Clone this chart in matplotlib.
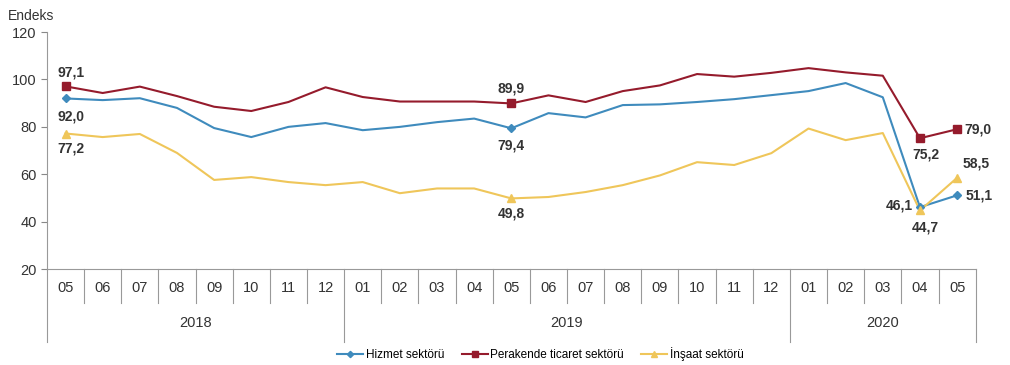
import matplotlib
matplotlib.use("Agg")
from matplotlib import pyplot as plt
from matplotlib.lines import Line2D

plt.rcParams['font.family'] = ['Liberation Sans', 'DejaVu Sans']
narrow = ['Liberation Sans Narrow', 'Liberation Sans', 'DejaVu Sans']

months = ['05', '06', '07', '08', '09', '10', '11', '12',
          '01', '02', '03', '04', '05', '06', '07', '08', '09', '10', '11', '12',
          '01', '02', '03', '04', '05']
years = ['2018', '2019', '2020']
year_spans = [(0, 7), (8, 19), (20, 24)]

hizmet = [92.0, 91.3, 92.1, 88.0, 79.5, 75.7, 80.0, 81.6,
          78.6, 80.0, 82.0, 83.5, 79.4, 85.8, 84.0, 89.2, 89.5, 90.5, 91.7, 93.4,
          95.1, 98.5, 92.5, 46.1, 51.1]
perakende = [97.1, 94.3, 97.0, 93.0, 88.5, 86.7, 90.5, 96.7,
             92.6, 90.7, 90.7, 90.7, 89.9, 93.3, 90.5, 95.1, 97.5, 102.3, 101.2, 102.8,
             104.8, 103.0, 101.6, 75.2, 79.0]
insaat = [77.2, 75.7, 77.0, 69.0, 57.6, 58.8, 56.7, 55.4,
          56.7, 52.0, 54.0, 54.0, 49.8, 50.4, 52.5, 55.4, 59.5, 65.1, 63.9, 68.9,
          79.3, 74.4, 77.4, 44.7, 58.5]

labels = ['Hizmet sektörü', 'Perakende ticaret sektörü', 'İnşaat sektörü']
colors = ['#3f8bbd', '#951b2c', '#efc65a']
markers = ['D', 's', '^']
marker_sizes = [4, 6, 6]
marked = [0, 12, 23, 24]

# (series, index, dx points, dy points, ha, va)
annotations = [
    (1, 0, 4, 5, 'center', 'bottom'),
    (0, 0, 4, -8, 'center', 'top'),
    (2, 0, 4, -6, 'center', 'top'),
    (1, 12, 0, 6, 'center', 'bottom'),
    (0, 12, 0, -7, 'center', 'top'),
    (2, 12, 0, -6, 'center', 'top'),
    (1, 23, 4, -7, 'center', 'top'),
    (1, 24, 5, 0, 'left', 'center'),
    (0, 23, -5, 1, 'right', 'center'),
    (2, 23, 4, -7, 'center', 'top'),
    (2, 24, 4, 5, 'left', 'bottom'),
    (0, 24, 6, 0, 'left', 'center'),
]

series = [hizmet, perakende, insaat]
x = list(range(len(months)))

fig = plt.figure(figsize=(10.1, 3.65), dpi=100)
ax = fig.add_axes([0.0465, 0.263, 0.9195, 0.649])

for vals, col in zip(series, colors):
    ax.plot(x, vals, color=col, lw=1.5, zorder=2)
for vals, col, m, ms in zip(series, colors, markers, marker_sizes):
    ax.plot([x[i] for i in marked], [vals[i] for i in marked], ls='none',
            marker=m, ms=ms, color=col, zorder=3)

for s, i, dx, dy, ha, va in annotations:
    v = series[s][i]
    ax.annotate(f"{v:.1f}".replace('.', ','), (x[i], v), xytext=(dx, dy),
                textcoords='offset points', ha=ha, va=va, fontsize=10,
                fontweight='bold', color='#333333')

ax.set_xlim(-0.5, len(months) - 0.5)
ax.set_ylim(20, 120)
ax.set_yticks(range(20, 121, 20))
ax.tick_params(axis='y', labelsize=10.5, colors='#888888', labelcolor='#333333',
               length=4, direction='out')
ax.set_xticks([])
for side in ['top', 'right']:
    ax.spines[side].set_visible(False)
ax.spines['left'].set_color('#999999')
ax.spines['bottom'].set_color('#999999')

# two-level category axis: months, then years
tr = ax.get_xaxis_transform()
for i, m in enumerate(months):
    ax.text(i, -0.08, m, transform=tr, ha='center', va='center',
            fontsize=10.5, color='#333333', family=narrow)
year_edges = {-0.5} | {a - 0.5 for a, b in year_spans} | {len(months) - 0.5}
for k in range(len(months) + 1):
    xe = k - 0.5
    depth = -0.31 if xe in year_edges else -0.145
    ax.plot([xe, xe], [0, depth], transform=tr, color='#999999', lw=0.8,
            clip_on=False)
for yr, (a, b) in zip(years, year_spans):
    ax.text((a + b) / 2, -0.228, yr, transform=tr, ha='center', va='center',
            fontsize=10.5, color='#333333', family=narrow)

fig.text(0.008, 0.955, 'Endeks', fontsize=10, color='#333333', ha='left', va='center')

handles = [Line2D([], [], color=c, marker=m, ms=ms * 0.8, lw=1.5)
           for c, m, ms in zip(colors, markers, marker_sizes)]
fig.legend(handles, labels, loc='center', bbox_to_anchor=(0.535, 0.03), ncol=3,
           frameon=False, handlelength=2.2, handletextpad=0.2,
           columnspacing=1.5, prop={'family': narrow, 'size': 8.5})

fig.savefig('out.png', dpi=100)
